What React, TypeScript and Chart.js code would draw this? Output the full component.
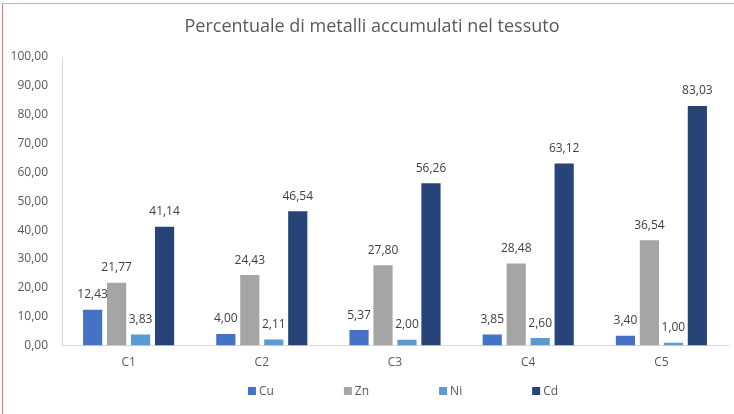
import React, { useEffect, useRef } from "react";
import { Chart, registerables } from "chart.js";

Chart.register(...registerables);

const categories = ["C1", "C2", "C3", "C4", "C5"];
const seriesNames = ["Cu", "Zn", "Ni", "Cd"];
const cuValues = [12.43, 4.0, 5.37, 3.85, 3.4];
const znValues = [21.77, 24.43, 27.8, 28.48, 36.54];
const niValues = [3.83, 2.11, 2.0, 2.6, 1.0];
const cdValues = [41.14, 46.54, 56.26, 63.12, 83.03];
const seriesColors = ["#4472C4", "#A5A5A5", "#5B9BD5", "#264478"];
const yTicks = [0, 10, 20, 30, 40, 50, 60, 70, 80, 90, 100];
const titleText = "Percentuale di metalli accumulati nel tessuto";

const FONT = "'Open Sans', 'Noto Sans', sans-serif";
const fmt = (v: number) => v.toFixed(2).replace(".", ",");

const overlayPlugin = {
  id: "overlay",
  afterDatasetsDraw(chart: any) {
    const ctx = chart.ctx;
    ctx.save();
    // data labels
    ctx.font = `12px ${FONT}`;
    ctx.fillStyle = "#404040";
    ctx.textAlign = "center";
    ctx.textBaseline = "middle";
    chart.data.datasets.forEach((ds: any, di: number) => {
      const meta = chart.getDatasetMeta(di);
      meta.data.forEach((bar: any, i: number) => {
        ctx.fillText(fmt(ds.data[i]), bar.x, bar.y - 15);
      });
    });
    // title
    ctx.font = `18px ${FONT}`;
    ctx.fillStyle = "#595959";
    ctx.fillText(titleText, 372, 27);
    // legend
    ctx.font = `12px ${FONT}`;
    ctx.textAlign = "left";
    const box = 8;
    const gapText = 3;
    const gapItem = 70;
    const widths = chart.data.datasets.map(
      (ds: any) => box + gapText + ctx.measureText(ds.label).width
    );
    const total = widths.reduce((a: number, b: number) => a + b, 0) + gapItem * (widths.length - 1);
    let x = (chart.chartArea.left + chart.chartArea.right) / 2 + 8 - total / 2;
    const yc = 391;
    chart.data.datasets.forEach((ds: any, di: number) => {
      ctx.fillStyle = ds.backgroundColor;
      ctx.fillRect(x, yc - box / 2, box, box);
      ctx.fillStyle = "#595959";
      ctx.fillText(ds.label, x + box + gapText, yc + 0.5);
      x += widths[di] + gapItem;
    });
    ctx.restore();
  },
};

export default function App() {
  const ref = useRef<HTMLCanvasElement | null>(null);
  useEffect(() => {
    document.body.style.margin = "0";
    if (!ref.current) return;
    const values = [cuValues, znValues, niValues, cdValues];
    const chart = new Chart(ref.current, {
      type: "bar",
      data: {
        labels: categories,
        datasets: seriesNames.map((name, i) => ({
          label: name,
          data: values[i],
          backgroundColor: seriesColors[i],
          borderWidth: 0,
          categoryPercentage: 0.72,
          barPercentage: 0.8,
        })),
      },
      options: {
        responsive: false,
        animation: false,
        devicePixelRatio: 1,
        layout: { padding: { top: 57, left: 0, right: 6, bottom: 42 } },
        plugins: {
          legend: { display: false },
          title: { display: false },
          tooltip: { enabled: false },
        },
        scales: {
          x: {
            grid: { display: false },
            border: { display: true, color: "#D9D9D9", width: 1 },
            ticks: { color: "#595959", font: { size: 12, family: FONT }, padding: 2 },
          },
          y: {
            min: 0,
            max: 100,
            afterFit(scale: any) {
              scale.width = 62;
            },
            afterBuildTicks(scale: any) {
              scale.ticks = yTicks.map((v) => ({ value: v }));
            },
            grid: { display: false },
            border: { display: true, color: "#D9D9D9", width: 1 },
            ticks: {
              color: "#595959",
              font: { size: 12, family: FONT },
              padding: 6,
              callback: (v: any) => fmt(Number(v)),
            },
          },
        },
      },
      plugins: [overlayPlugin],
    });
    return () => chart.destroy();
  }, []);
  return (
    <div style={{ position: "relative", width: 734, height: 414, background: "#fff" }}>
      <canvas ref={ref} width={734} height={414} style={{ display: "block" }} />
      <div
        style={{
          position: "absolute",
          left: 2,
          top: 3,
          right: 0,
          bottom: 0,
          borderLeft: "1.5px solid #EC7A6C",
          borderTop: "1.5px solid #F4A49A",
          pointerEvents: "none",
        }}
      />
    </div>
  );
}
